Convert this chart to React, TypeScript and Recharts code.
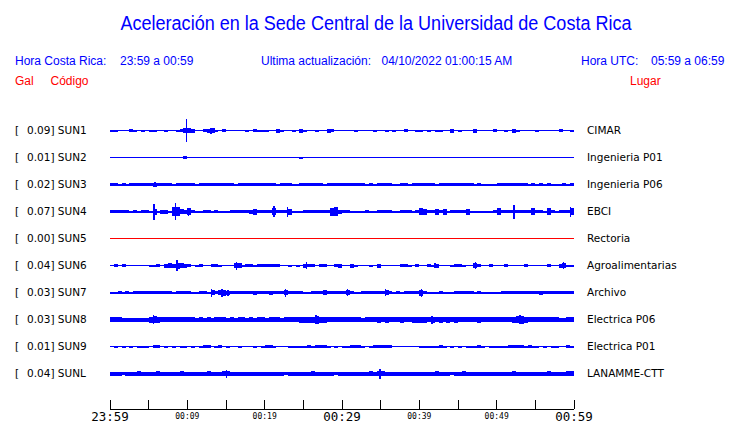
import { BarChart, Bar, XAxis, YAxis, ReferenceLine, LineChart, Line } from 'recharts';

// station list, top to bottom
const CODES = ['SUN1', 'SUN2', 'SUN3', 'SUN4', 'SUN5', 'SUN6', 'SUN7', 'SUN8', 'SUN9', 'SUNL'];
const PLACES = ['CIMAR', 'Ingenieria P01', 'Ingenieria P06', 'EBCI', 'Rectoria', 'Agroalimentarias', 'Archivo', 'Electrica P06', 'Electrica P01', 'LANAMME-CTT'];
const PEAKS = [0.09, 0.01, 0.02, 0.07, 0.0, 0.04, 0.03, 0.03, 0.01, 0.04];

// envelope thickness per half minute, 120 bins = 60 min
const SUN1_ENV = '2200032020' + '2200200235' + '5400345203' + '0000020322' + '2004200204' + '2002004300' + '0002000020' + '0202003002' + '2020220040' + '2000400003' + '0020420000' + '2000003002';
const SUN2_ENV = '0000000000' + '0000000003' + '0000000000' + '0000000000' + '0000000002' + '0000000000' + '0000000000' + '0000000000' + '0000000000' + '0000000000' + '0000000000' + '0000000000';
const SUN3_ENV = '3323233333' + '3433332333' + '3323333333' + '3323333333' + '3332333223' + '3333323333' + '3333332323' + '3332233233' + '3333233333' + '3333232222' + '3333333323' + '2323222323';
const SUN4_ENV = '3333323233' + '2624429954' + '7322332322' + '2333334633' + '3373336222' + '3333333894' + '3322223223' + '3332233323' + '7633636233' + '3362222223' + '7333333337' + '3327323337';
const SUN5_ENV = '0000000000' + '0000000000' + '0000000000' + '0000000000' + '0000000000' + '0000000000' + '0000000000' + '0000000000' + '0000000000' + '0000000000' + '0000000000' + '0000000000';
const SUN6_ENV = '0303000000' + '2230454654' + '3023003320' + '0055233233' + '3333002020' + '4330330034' + '0042000204' + '0000033203' + '0032400023' + '3200530030' + '0030000300' + '0003004522';
const SUN7_ENV = '2232323333' + '3333332333' + '3223325356' + '4333333433' + '3433353333' + '2233353333' + '3532233333' + '3532323333' + '6322232223' + '3333232222' + '2333333333' + '3433333333';
const SUN8_ENV = '5554444444' + '6765555555' + '5545454555' + '4545545455' + '4555455556' + '6668665555' + '5555545556' + '5655565566' + '6656565656' + '5555565555' + '5555678655' + '5555554455';
const SUN9_ENV = '0202020222' + '0330202022' + '0202330230' + '2002000202' + '3320002222' + '2323332020' + '2233320233' + '3330000000' + '2222232020' + '2022232022' + '2223333232' + '2020220032';
const SUNL_ENV = '4443444544' + '4454444454' + '4444454445' + '5444444444' + '4444434444' + '4454444434' + '4444444545' + '5444444444' + '4444544434' + '4544444444' + '4444544444' + '4445444455';

// [minute, peak-to-peak] of the isolated spikes
const SUN1_SPIKES = [[9.85, 23], [13.0, 6]];
const SUN2_SPIKES: number[][] = [];
const SUN3_SPIKES = [[5.8, 5]];
const SUN4_SPIKES = [[5.65, 16], [8.4, 17], [10.1, 8], [21.15, 11], [22.9, 10], [52.2, 14], [59.5, 10]];
const SUN5_SPIKES: number[][] = [];
const SUN6_SPIKES = [[8.6, 11], [16.3, 8], [25.35, 7], [41.95, 5], [47.2, 7], [58.6, 7]];
const SUN7_SPIKES = [[13.1, 8], [14.45, 8], [15.2, 6], [22.65, 8], [30.65, 7], [35.6, 7], [40.25, 8]];
const SUN8_SPIKES = [[5.6, 9], [26.6, 9], [41.6, 8], [53.0, 9]];
const SUN9_SPIKES: number[][] = [];
const SUNL_SPIKES = [[15.0, 8], [34.85, 10]];

const ENVS = [SUN1_ENV, SUN2_ENV, SUN3_ENV, SUN4_ENV, SUN5_ENV, SUN6_ENV, SUN7_ENV, SUN8_ENV, SUN9_ENV, SUNL_ENV];
const SPIKES = [SUN1_SPIKES, SUN2_SPIKES, SUN3_SPIKES, SUN4_SPIKES, SUN5_SPIKES, SUN6_SPIKES, SUN7_SPIKES, SUN8_SPIKES, SUN9_SPIKES, SUNL_SPIKES];

// time axis
const AXIS_TICKS = [0, 5, 10, 15, 20, 25, 30, 35, 40, 45, 50, 55, 60];
const LABEL_MINUTES = [0, 10, 20, 30, 40, 50, 60];
const LABEL_TEXT = ['23:59', '00:09', '00:19', '00:29', '00:39', '00:49', '00:59'];
const MAJOR_MINUTES = [0, 30, 60];

const BLUE = '#0000ff';
const RED = '#ff0000';
const PLOT_LEFT = 110;
const PLOT_W = 464;
const ROW_TOP = 117;
const ROW_H = 27;

function buildRows(env: string, spikes: number[][]) {
  const rows = env.split('').map((c, i) => ({ i, band: Number(c), spike: 0, frac: 0, range: [0, 0] }));
  const perMin = rows.length / 60;
  spikes.forEach(([m, a]) => {
    const k = Math.min(rows.length - 1, Math.floor(m * perMin));
    rows[k].spike = a;
    rows[k].frac = m * perMin - k;
  });
  rows.forEach((r) => {
    const m = Math.max(r.band, r.spike) / 2;
    r.range = [-m, m];
  });
  return rows;
}

const wiggle = (color: string) => (p: any) => {
  const { x, y, width, height, payload } = p;
  const m = Math.max(payload.band, payload.spike);
  if (!m || !height) return <g />;
  const top = Math.min(y, y + height);
  const h = Math.abs(height);
  const k = h / m;
  const cy = top + h / 2;
  const bh = payload.band * k;
  const sh = payload.spike * k;
  return (
    <g shapeRendering="crispEdges">
      {bh > 0 && <rect x={x} y={cy - bh / 2} width={width} height={bh} fill={color} />}
      {sh > 0 && <rect x={x + payload.frac * width - 0.5} y={cy - sh / 2} width={1.5} height={sh} fill={color} />}
    </g>
  );
};

function Trace({ idx }: { idx: number }) {
  const color = CODES[idx] === 'SUN5' ? RED : BLUE;
  const rows = buildRows(ENVS[idx], SPIKES[idx]);
  return (
    <div style={{ position: 'absolute', left: PLOT_LEFT, top: ROW_TOP + idx * ROW_H }}>
      <BarChart width={PLOT_W} height={ROW_H} data={rows} margin={{ top: 0, right: 0, bottom: 0, left: 0 }} barCategoryGap={0}>
        <XAxis dataKey="i" hide />
        <YAxis hide domain={[-13.5, 13.5]} allowDataOverflow />
        <ReferenceLine y={0} stroke={color} strokeWidth={1} />
        <Bar dataKey="range" shape={wiggle(color)} isAnimationActive={false} />
      </BarChart>
    </div>
  );
}

function TimeTick(props: any) {
  const { x, y, payload } = props;
  const j = LABEL_MINUTES.indexOf(payload.value);
  const major = MAJOR_MINUTES.includes(payload.value);
  return (
    <g>
      <line x1={x} x2={x} y1={y - 9} y2={y} stroke="#000" shapeRendering="crispEdges" />
      {j >= 0 && (
        <text x={x} y={y + (major ? 12 : 9.5)} textAnchor="middle" fontFamily="DejaVu Sans Mono" fontSize={major ? 12.5 : 8} fill="#000">
          {LABEL_TEXT[j]}
        </text>
      )}
    </g>
  );
}

const TICK_ROWS = AXIS_TICKS.map((t) => ({ t }));

export default function App() {
  return (
    <div style={{ position: 'absolute', left: 0, top: 0, width: 740, height: 423, background: '#fff' }}>
      {CODES.map((c, i) => (
        <Trace key={c} idx={i} />
      ))}
      <div style={{ position: 'absolute', left: PLOT_LEFT - 30, top: 379 }}>
        <LineChart width={PLOT_W + 60} height={44} data={TICK_ROWS} margin={{ top: 0, right: 30, bottom: 0, left: 30 }}>
          <XAxis
            dataKey="t"
            type="number"
            domain={[0, 60]}
            ticks={AXIS_TICKS}
            interval={0}
            tickLine={false}
            tickSize={0}
            tickMargin={0}
            height={14}
            tick={<TimeTick />}
            axisLine={{ stroke: '#000', shapeRendering: 'crispEdges' }}
          />
          <YAxis hide domain={[0, 1]} />
          <Line dataKey="v" stroke="none" dot={false} isAnimationActive={false} />
        </LineChart>
      </div>
      <svg width={740} height={423} style={{ position: 'absolute', left: 0, top: 0, pointerEvents: 'none' }}>
        <text x={120.5} y={30} fontFamily="Liberation Sans" fontSize={20} fill={BLUE} textLength={511} lengthAdjust="spacingAndGlyphs">
          Aceleración en la Sede Central de la Universidad de Costa Rica
        </text>
        <g fontFamily="Liberation Sans" fontSize={12} fill={BLUE}>
          <text x={15} y={65}>Hora Costa Rica:</text>
          <text x={120} y={65}>23:59 a 00:59</text>
          <text x={261} y={65}>Ultima actualización:</text>
          <text x={381.5} y={65}>04/10/2022 01:00:15 AM</text>
          <text x={581} y={65}>Hora UTC:</text>
          <text x={651} y={65}>05:59 a 06:59</text>
        </g>
        <g fontFamily="Liberation Sans" fontSize={12} fill={RED}>
          <text x={15} y={85}>Gal</text>
          <text x={50.5} y={85}>Código</text>
          <text x={630} y={85}>Lugar</text>
        </g>
        <g fontFamily="DejaVu Sans" fontSize={10.5} fill="#000">
          {CODES.map((c, i) => (
            <g key={c}>
              <text x={15} y={ROW_TOP + i * ROW_H + 17}>[</text>
              <text x={27} y={ROW_TOP + i * ROW_H + 17}>{`${PEAKS[i].toFixed(2)}] ${c}`}</text>
              <text x={587} y={ROW_TOP + i * ROW_H + 17}>{PLACES[i]}</text>
            </g>
          ))}
        </g>
      </svg>
    </div>
  );
}
